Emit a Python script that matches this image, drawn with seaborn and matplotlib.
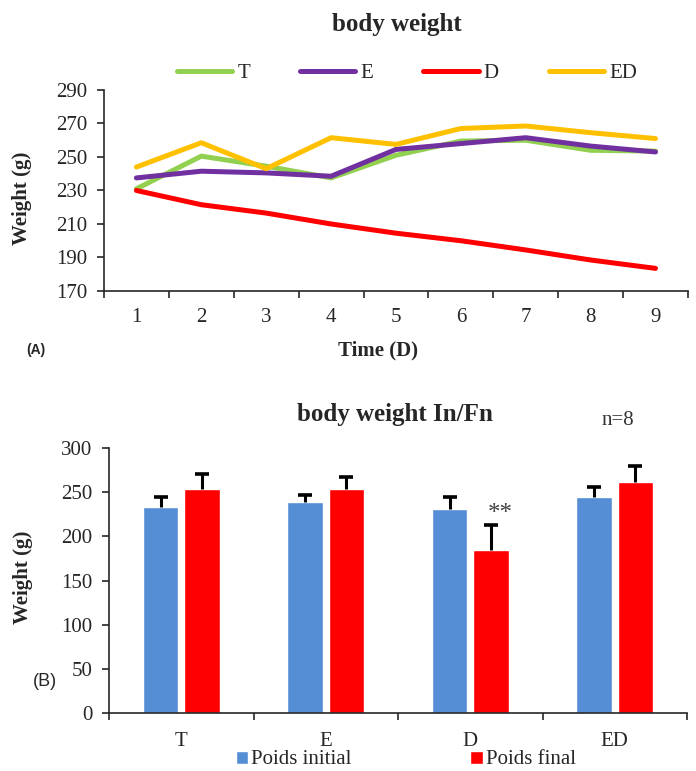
import pandas as pd
import numpy as np
import matplotlib
matplotlib.use('Agg')
import matplotlib.pyplot as plt
import seaborn as sns

# === DATA ===
days = [1, 2, 3, 4, 5, 6, 7, 8, 9]
weight_T = [231, 250.5, 244.5, 237.5, 251, 259.5, 260, 254, 253.5]
weight_E = [237.5, 241.5, 240.5, 238.5, 254.5, 258, 261.5, 256.5, 253]
weight_D = [230, 221.5, 216.5, 210, 204.5, 200, 194.5, 188.5, 183.5]
weight_ED = [244, 258.5, 243, 261.5, 257.5, 267, 268.5, 264.5, 261]

groups = ['T', 'E', 'D', 'ED']
poids_initial = [233, 239, 231, 245]
poids_final = [254, 253.5, 184.5, 262]
sem_initial = [11.5, 7.5, 13.5, 10.5]
sem_final = [16.5, 13.5, 28, 18]

line_colors = {'T': '#92D050', 'E': '#7030A0', 'D': '#FF0000', 'ED': '#FFC000'}
bar_colors = {'Poids initial': '#558ED5', 'Poids final': '#FF0000'}

# long-form tables
df_line = pd.concat([
    pd.DataFrame({'Day': days, 'Weight': w, 'Group': g})
    for g, w in zip(groups, [weight_T, weight_E, weight_D, weight_ED])
], ignore_index=True)

df_bar = pd.concat([
    pd.DataFrame({'Group': groups, 'Weight': poids_initial, 'Time': 'Poids initial'}),
    pd.DataFrame({'Group': groups, 'Weight': poids_final, 'Time': 'Poids final'}),
], ignore_index=True)

sns.set_style('white')
plt.rcParams['font.family'] = ['Liberation Serif', 'DejaVu Serif']
plt.rcParams['axes.linewidth'] = 1.2

fig = plt.figure(figsize=(6.96, 7.71), dpi=100)

# === (A) LINE CHART ===
ax1 = fig.add_axes([0.1494, 0.6226, 0.839, 0.2607])
sns.lineplot(data=df_line, x='Day', y='Weight', hue='Group', hue_order=groups,
             palette=line_colors, linewidth=3.6, ax=ax1,
             solid_capstyle='round', solid_joinstyle='round')
h1 = ax1.legend_.legend_handles
l1 = [t.get_text() for t in ax1.legend_.texts]
ax1.legend_.remove()

ax1.set_xlim(0.5, 9.5)
ax1.set_ylim(170, 290)
ax1.set_yticks(range(170, 291, 20))
ax1.set_xticks(np.arange(0.5, 9.6, 1))
ax1.set_xticklabels([])
ax1.set_xticks(days, minor=True)
ax1.set_xticklabels([str(d) for d in days], minor=True)
ax1.tick_params(axis='x', which='major', direction='out', length=5, width=1.2, bottom=True)
ax1.tick_params(axis='x', which='minor', length=0, pad=12, labelsize=15)
ax1.tick_params(axis='y', direction='out', length=5, width=1.2, left=True, pad=7, labelsize=15)
sns.despine(ax=ax1)
ax1.set_xlabel('Time (D)', fontsize=15, fontweight='bold')
ax1.set_ylabel('Weight (g)', fontsize=15, fontweight='bold')
ax1.xaxis.set_label_coords(0.469, -0.244)
ax1.yaxis.set_label_coords(-0.123, 0.463)

fig.text(0.570, 0.9676, 'body weight', ha='center', va='center', fontsize=18, fontweight='bold')
leg1 = fig.legend(h1, l1, loc='center', bbox_to_anchor=(0.585, 0.905), ncol=4, frameon=False,
                  fontsize=15, handlelength=2.65, handletextpad=0.25, columnspacing=2.4)
for lh in leg1.legend_handles:
    lh.set_linewidth(3.6)
    lh.set_solid_capstyle('round')
fig.text(36 / 696, 1 - 350 / 771, '(A)', ha='center', va='center', fontsize=10,
         fontweight='bold', family='Liberation Sans')

# === (B) BAR CHART ===
ax2 = fig.add_axes([0.1566, 0.0752, 0.8305, 0.3437])
sns.barplot(data=df_bar, x='Group', y='Weight', hue='Time', order=groups,
            palette=bar_colors, width=0.57, gap=0.14, errorbar=None,
            saturation=1, ax=ax2)
h2 = ax2.legend_.legend_handles
l2 = [t.get_text() for t in ax2.legend_.texts]
ax2.legend_.remove()

# upward error bars
for cont, errs in zip(ax2.containers, [sem_initial, sem_final]):
    xs = [b.get_x() + b.get_width() / 2 for b in cont]
    ys = [b.get_height() for b in cont]
    ax2.errorbar(xs, ys, yerr=[np.zeros(len(errs)), errs], fmt='none',
                 ecolor='black', elinewidth=2.2, capsize=0, zorder=3)
    ax2.plot(xs, np.array(ys) + np.array(errs), ls='none', marker='_',
             markersize=10, markeredgewidth=2.6, color='black', zorder=3)

# significance mark on D final
d_bar = ax2.containers[1][2]
ax2.annotate('**', xy=(d_bar.get_x() + d_bar.get_width() / 2, d_bar.get_height() + sem_final[2]),
             xytext=(7, 8), textcoords='offset points', ha='center', va='center',
             fontsize=18, color='#404040')

ax2.set_xlim(-0.5, 3.5)
ax2.set_ylim(0, 300)
ax2.set_yticks(range(0, 301, 50))
ax2.set_xticks(np.arange(-0.5, 3.6, 1))
ax2.set_xticklabels([])
ax2.set_xticks(range(len(groups)), minor=True)
ax2.set_xticklabels(groups, minor=True)
ax2.tick_params(axis='x', which='major', direction='out', length=5, width=1.2, bottom=True)
ax2.tick_params(axis='x', which='minor', length=0, pad=14, labelsize=15)
ax2.tick_params(axis='y', direction='out', length=5, width=1.2, left=True, pad=7, labelsize=15)
sns.despine(ax=ax2)
ax2.set_xlabel('')
ax2.set_ylabel('Weight (g)', fontsize=15, fontweight='bold')
ax2.yaxis.set_label_coords(-0.1315, 0.513)

fig.text(0.567, 1 - 415 / 771, 'body weight In/Fn', ha='center', va='center',
         fontsize=18, fontweight='bold')
fig.text(618 / 696, 1 - 421 / 771, 'n=8', ha='center', va='center', fontsize=15, color='#333333')
fig.text(45 / 696, 1 - 682 / 771, '(B)', ha='center', va='center', fontsize=13,
         family='Liberation Sans')
fig.legend(h2, l2, loc='center', bbox_to_anchor=(0.583, 0.0143), ncol=2, frameon=False,
           fontsize=15, handlelength=0.6, handleheight=0.6, handletextpad=0.15,
           columnspacing=5.7)

fig.savefig('out.png', dpi=100)
